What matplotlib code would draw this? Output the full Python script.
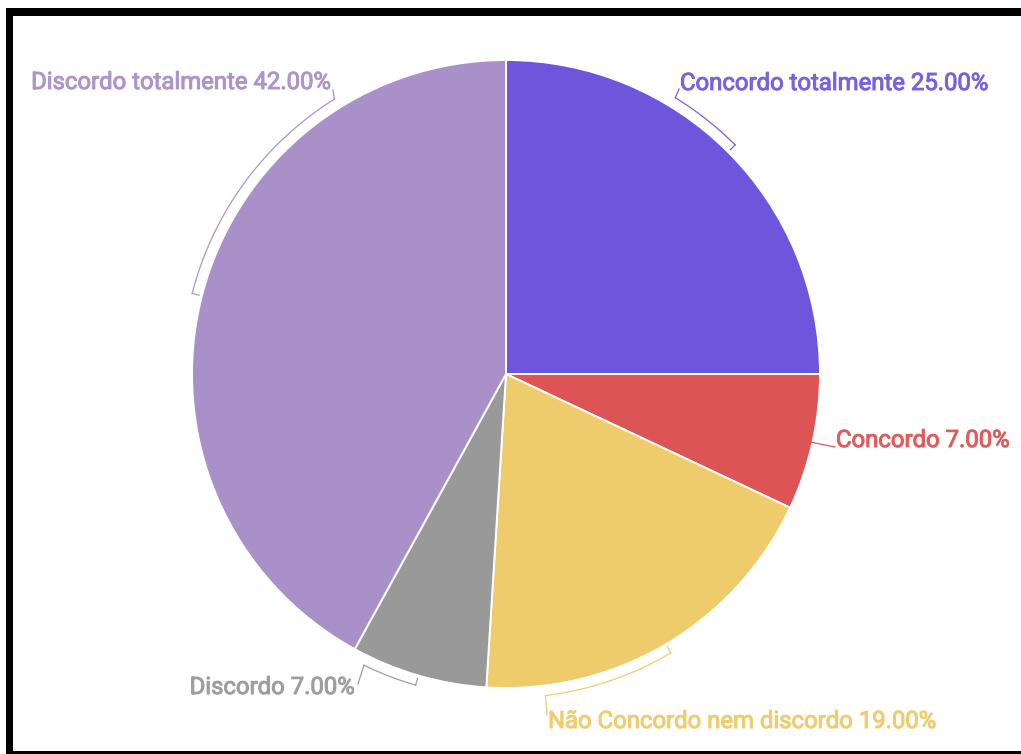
import numpy as np
import matplotlib.pyplot as plt
import matplotlib.patheffects as pe
from matplotlib.patches import Rectangle

W, H = 1021, 754

categorias = ['Concordo totalmente', 'Concordo', 'Não Concordo nem discordo',
              'Discordo', 'Discordo totalmente']
valores = [25, 7, 19, 7, 42]
cores = ['#6e56dc', '#dc5454', '#eecb6b', '#999999', '#aa90c8']
cores_txt = ['#7763de', '#e05c5c', '#efcc6e', '#9e9e9e', '#ad95ca']

# layout in pixel coords (y measured from the top)
cx, cy, R = 506, 374, 314
arco_fim = [58.5, None, -83.0, -116.0, 122.0]          # where each bracket arc stops
ancora = [(679, 89), (835, 447), (547, 715), (358, 684), (333, 90)]
texto_pos = [(680, 90, 'left'), (836, 447, 'left'), (548, 728, 'left'),
             (355, 694, 'right'), (331, 89, 'right')]

def py(y):
    return H - y

def polar(ang, r):
    a = np.deg2rad(ang)
    return cx + r*np.cos(a), py(cy) + r*np.sin(a)

fig = plt.figure(figsize=(W/100, H/100), dpi=100)
ax = fig.add_axes([0, 0, 1, 1])

wedges, _ = ax.pie(valores, colors=cores, startangle=90, counterclock=False,
                   center=(cx, py(cy)), radius=R, frame=True,
                   wedgeprops=dict(edgecolor='white', linewidth=1.4))

for i, w in enumerate(wedges):
    cor = cores_txt[i]
    meio = (w.theta1 + w.theta2) / 2
    meio = (meio + 180) % 360 - 180
    if arco_fim[i] is None:
        x0, y0 = polar(meio, R - 1)
    else:
        fim = arco_fim[i]
        if fim - meio > 180:
            fim -= 360
        if meio - fim > 180:
            fim += 360
        x1, y1 = polar(meio, R + 3)
        x2, y2 = polar(meio, R + 10)
        ax.plot([x1, x2], [y1, y2], color=cor, lw=0.9)
        t = np.linspace(meio, fim, 60)
        xs, ys = polar(t, R + 10)
        ax.plot(xs, ys, color=cor, lw=0.9)
        x0, y0 = xs[-1], ys[-1]
    ax.plot([x0, ancora[i][0]], [y0, py(ancora[i][1])], color=cor, lw=0.9)
    tx, ty, ha = texto_pos[i]
    ax.text(tx, py(ty), f'{categorias[i]} {valores[i]:.2f}%', color=cor,
            ha=ha, va='baseline', fontsize=17.2,
            family=['Roboto', 'DejaVu Sans'],
            path_effects=[pe.withStroke(linewidth=0.7, foreground=cor)])

# black frame round the chart
for x, y, w, h in [(6, 8, W, 8), (6, 8, 7, H), (6, 751, W, 5)]:
    ax.add_patch(Rectangle((x, py(y + h)), w, h, color='black', lw=0))

ax.set_xlim(0, W)
ax.set_ylim(0, H)
ax.set_aspect('equal')
ax.axis('off')

fig.savefig('out.png', dpi=100)
